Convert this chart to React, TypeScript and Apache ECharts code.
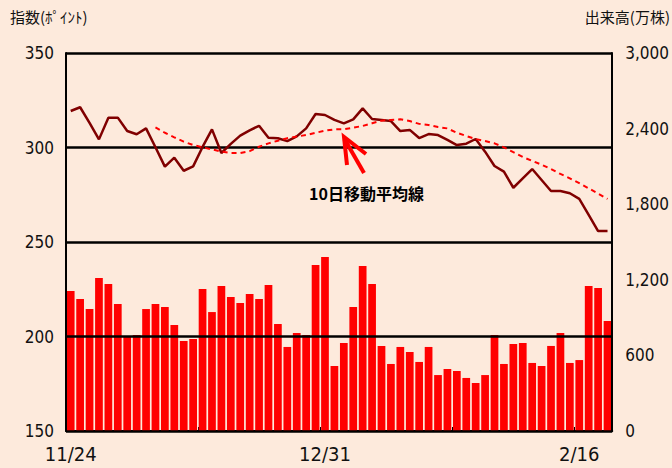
import React, { useEffect, useRef } from "react";
import * as echarts from "echarts";

const dates = [
  "11/24", "11/25", "11/26", "11/27", "11/28", "12/1", "12/2", "12/3", "12/4", "12/5",
  "12/8", "12/9", "12/10", "12/11", "12/12", "12/15", "12/16", "12/17", "12/18", "12/19",
  "12/22", "12/23", "12/24", "12/25", "12/26", "12/29", "12/30", "12/31", "1/2", "1/5",
  "1/6", "1/7", "1/8", "1/9", "1/12", "1/13", "1/14", "1/15", "1/16", "1/19",
  "1/20", "1/21", "1/22", "1/23", "2/2", "2/3", "2/4", "2/5", "2/6", "2/9",
  "2/10", "2/11", "2/12", "2/13", "2/16", "2/17", "2/18", "2/19",
];

const indexValues = [
  319.3, 321.3, 313, 304.3, 315.8, 315.8, 308.7, 307, 310.1, 300.1,
  289.9, 294.6, 287.7, 290, 300.3, 309.6, 297.1, 301.9, 306.3, 309.1,
  311.5, 305.2, 304.9, 303.4, 305.9, 310.1, 317.7, 317.2, 314.6, 312.8,
  314.9, 320.7, 315.1, 314.6, 314, 308.7, 309.3, 305, 307.1, 306.6,
  304, 301.3, 302, 304.5, 297.8, 290.2, 287.2, 278.7, 283.7, 288.6,
  282.8, 277, 277, 275.8, 272.8, 264.3, 255.8, 255.8,
];

const ma10Values = [
  null, null, null, null, null, null, null, null, null, 310.7,
  307.8, 305.4, 303.1, 301.3, 300.1, 299, 297.8, 297.1, 297.1, 298.1,
  300.4, 302.2, 303.6, 304.9, 305.8, 306.6, 307.8, 308.9, 309.6, 309.6,
  310.5, 311.4, 312.8, 314.2, 314.6, 314.9, 314, 312.5, 311.9, 310.8,
  310.1, 307.8, 306.1, 304.5, 303.4, 302.2, 300.1, 297.5, 295, 292.9,
  290.9, 288.6, 286, 283.7, 281.1, 278.4, 275.6, 272.8,
];

const volumeValues = [
  1111, 1048, 968, 1214, 1167, 1008, 754, 762, 968, 1008,
  984, 841, 714, 730, 1127, 944, 1151, 1063, 1016, 1087,
  1048, 1159, 849, 667, 778, 762, 1317, 1381, 516, 698,
  984, 1310, 1167, 675, 532, 667, 627, 548, 667, 444,
  492, 476, 421, 381, 444, 762, 532, 690, 698, 540,
  516, 675, 778, 540, 563, 1151, 1135, 873,
];

const labelIndices = [0, 27, 54];
const tickIndices = [0, 14, 27, 41, 54];

const NUM_FONT = "'Liberation Sans Narrow', 'DejaVu Sans Condensed', 'Noto Sans CJK JP', sans-serif";
const JP_FONT = "'Noto Sans CJK JP', sans-serif";

export default function App() {
  const ref = useRef<HTMLDivElement>(null);

  useEffect(() => {
    document.body.style.margin = "0";
    if (!ref.current) return;
    const chart = echarts.init(ref.current, undefined, { renderer: "svg" });
    chart.setOption({
      animation: false,
      backgroundColor: "#FDEADC",
      grid: { left: 66, right: 52, top: 53, bottom: 37 },
      xAxis: {
        type: "category",
        data: dates,
        boundaryGap: true,
        axisLine: { lineStyle: { color: "#000", width: 2 } },
        axisTick: {
          show: true,
          inside: true,
          length: 4,
          interval: (i: number) => tickIndices.includes(i),
          lineStyle: { color: "#000", width: 1 },
        },
        axisLabel: {
          interval: (i: number) => labelIndices.includes(i),
          margin: 13,
          fontSize: 20,
          color: "#111",
          fontFamily: NUM_FONT,
        },
      },
      yAxis: [
        {
          type: "value",
          min: 150,
          max: 350,
          interval: 50,
          position: "left",
          z: 3,
          axisLine: { show: true, lineStyle: { color: "#000", width: 2 } },
          axisTick: { show: true, inside: true, length: 4, lineStyle: { color: "#000" } },
          axisLabel: { margin: 12, fontSize: 17, color: "#111", fontFamily: NUM_FONT },
          splitLine: { show: true, lineStyle: { color: "#000", width: 2.5 } },
        },
        {
          type: "value",
          min: 0,
          max: 3000,
          interval: 600,
          position: "right",
          z: 3,
          axisLine: { show: true, lineStyle: { color: "#000", width: 2 } },
          axisTick: { show: false },
          axisLabel: {
            margin: 13,
            fontSize: 17,
            color: "#111",
            fontFamily: NUM_FONT,
            formatter: (v: number) => v.toLocaleString("en-US"),
          },
          splitLine: { show: false },
        },
      ],
      series: [
        {
          name: "出来高",
          type: "bar",
          yAxisIndex: 1,
          data: volumeValues,
          barCategoryGap: "18%",
          itemStyle: { color: "#FF0000" },
          z: 2,
        },
        {
          name: "指数",
          type: "line",
          yAxisIndex: 0,
          data: indexValues,
          symbol: "none",
          lineStyle: { color: "#800000", width: 2.5 },
          z: 5,
        },
        {
          name: "10日移動平均線",
          type: "line",
          yAxisIndex: 0,
          data: ma10Values,
          symbol: "none",
          connectNulls: false,
          lineStyle: { color: "#FF0000", width: 2, type: [5, 4] },
          z: 5,
        },
      ],
      graphic: [
        {
          type: "text",
          left: 10,
          top: 9,
          style: { text: "指数(ﾎﾟｲﾝﾄ)", fontSize: 15, fill: "#111", fontFamily: JP_FONT },
        },
        {
          type: "text",
          right: 2,
          top: 9,
          style: { text: "出来高(万株)", fontSize: 15, fill: "#111", fontFamily: JP_FONT },
        },
        {
          type: "text",
          left: 309,
          top: 185,
          z: 10,
          style: {
            text: "10日移動平均線",
            fontSize: 16,
            fontWeight: "bold",
            fill: "#000",
            fontFamily: JP_FONT,
          },
        },
        {
          type: "line",
          z: 10,
          shape: { x1: 364, y1: 173, x2: 344.5, y2: 139 },
          style: { stroke: "#FF0000", lineWidth: 4 },
        },
        {
          type: "polyline",
          z: 10,
          shape: { points: [[347, 165], [344, 137], [366, 154]] },
          style: { stroke: "#FF0000", lineWidth: 4, fill: "none" },
        },
      ],
    });
    return () => chart.dispose();
  }, []);

  return <div ref={ref} style={{ width: 672, height: 468 }} />;
}
